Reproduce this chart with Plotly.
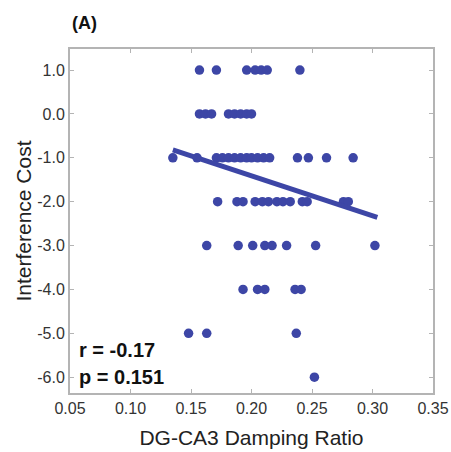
import plotly.graph_objects as go

# damping ratio (x) and interference cost (y)
ratio_p1 = [0.157, 0.171, 0.196, 0.203, 0.208, 0.213, 0.240]
ratio_0 = [0.157, 0.162, 0.167, 0.181, 0.186, 0.191, 0.196, 0.200]
ratio_m1 = [0.135, 0.155, 0.171, 0.176, 0.181, 0.186, 0.191, 0.196,
            0.200, 0.205, 0.210, 0.215, 0.238, 0.247, 0.262, 0.284]
ratio_m2 = [0.172, 0.188, 0.193, 0.203, 0.209, 0.214, 0.221, 0.226,
            0.232, 0.242, 0.246, 0.276, 0.280]
ratio_m3 = [0.163, 0.189, 0.201, 0.211, 0.217, 0.229, 0.253, 0.302]
ratio_m4 = [0.193, 0.205, 0.211, 0.236, 0.241]
ratio_m5 = [0.148, 0.163, 0.237]
ratio_m6 = [0.252]

rows = [
    (1.0, ratio_p1), (0.0, ratio_0), (-1.0, ratio_m1), (-2.0, ratio_m2),
    (-3.0, ratio_m3), (-4.0, ratio_m4), (-5.0, ratio_m5), (-6.0, ratio_m6),
]
damping = [x for _, xs in rows for x in xs]
cost = [c for c, xs in rows for _ in xs]

# regression line end points
fit_x = [0.135, 0.304]
fit_y = [-0.82, -2.36]

x_ticks = [0.05, 0.10, 0.15, 0.20, 0.25, 0.30, 0.35]
x_labels = ["0.05", "0.10", "0.15", "0.20", "0.25", "0.30", "0.35"]
y_ticks = [1, 0, -1, -2, -3, -4, -5, -6]
y_labels = ["1.0", "0.0", "-1.0", "-2.0", "-3.0", "-4.0", "-5.0", "-6.0"]

blue = "#3d46a6"
font = "Liberation Sans, Arial, sans-serif"

fig = go.Figure()
fig.add_trace(go.Scatter(
    x=damping, y=cost, mode="markers",
    marker=dict(color=blue, size=9.5, line=dict(width=0)),
    showlegend=False,
))
fig.add_trace(go.Scatter(
    x=fit_x, y=fit_y, mode="lines",
    line=dict(color=blue, width=5),
    showlegend=False,
))

axis_style = dict(
    showgrid=False, zeroline=False, automargin=False,
    showline=True, mirror="ticks", linecolor="#b4b4b4", linewidth=2,
    ticks="inside", ticklen=4, tickcolor="#b4b4b4", tickwidth=1,
    tickfont=dict(family=font, size=16, color="#333"),
)

fig.update_xaxes(
    range=[0.05, 0.35], tickvals=x_ticks, ticktext=x_labels,
    title=dict(text="DG-CA3 Damping Ratio", font=dict(family=font, size=21, color="#222"),
               standoff=14),
    **axis_style,
)
fig.update_yaxes(
    range=[-6.36, 1.48], tickvals=y_ticks, ticktext=y_labels,
    title=dict(text="Interference Cost", font=dict(family=font, size=21, color="#222"),
               standoff=0),
    **axis_style,
)

fig.add_annotation(text="<b>(A)</b>", xref="paper", yref="paper", x=0, y=1.076,
                   xanchor="left", yanchor="middle", showarrow=False,
                   font=dict(family=font, size=18, color="#111"))
fig.add_annotation(text="<b>r = -0.17</b>", xref="paper", yref="paper", x=0.02, y=0.125,
                   xanchor="left", yanchor="middle", showarrow=False,
                   font=dict(family=font, size=20, color="#111"))
fig.add_annotation(text="<b>p = 0.151</b>", xref="paper", yref="paper", x=0.02, y=0.047,
                   xanchor="left", yanchor="middle", showarrow=False,
                   font=dict(family=font, size=20, color="#111"))

fig.update_layout(
    width=451, height=452,
    margin=dict(l=70, r=18, t=49, b=59),
    paper_bgcolor="white", plot_bgcolor="white",
)

# drop the default 8px page margin so the figure sits at the window corner
fig.write_html("out.html",
               config={"displayModeBar": False},
               post_script="document.body.style.margin='0';"
                           "document.body.style.overflow='hidden';")
